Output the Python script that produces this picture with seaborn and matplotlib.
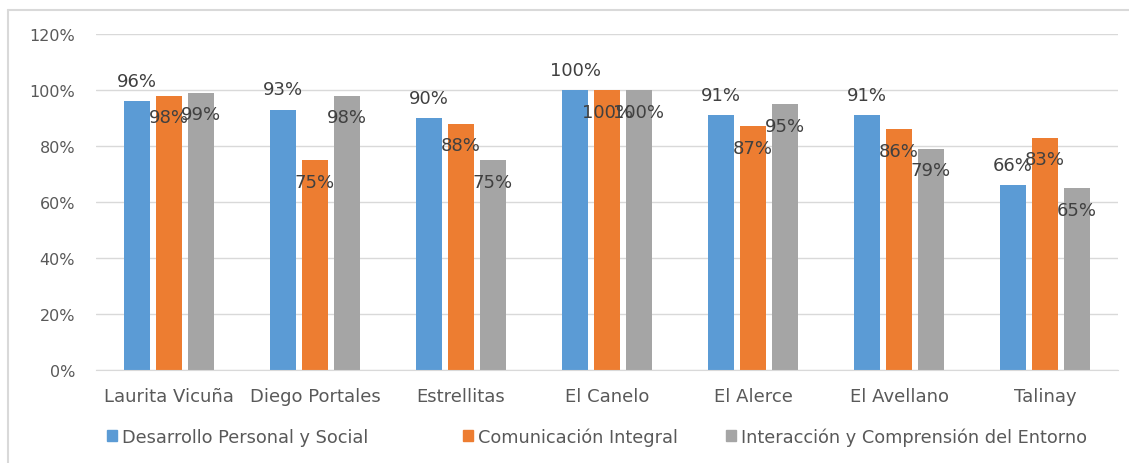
import matplotlib
matplotlib.use("Agg")
import matplotlib.pyplot as plt
import seaborn as sns
import pandas as pd
from matplotlib.patches import Rectangle
from matplotlib.lines import Line2D
from matplotlib.ticker import FuncFormatter

categories = ["Laurita Vicuña", "Diego Portales", "Estrellitas", "El Canelo",
              "El Alerce", "El Avellano", "Talinay"]
series_names = ["Desarrollo Personal y Social", "Comunicación Integral",
                "Interacción y Comprensión del Entorno"]
desarrollo = [96, 93, 90, 100, 91, 91, 66]
comunicacion = [98, 75, 88, 100, 87, 86, 83]
interaccion = [99, 98, 75, 100, 95, 79, 65]
yticks = [0, 20, 40, 60, 80, 100, 120]

colors = ["#5B9BD5", "#ED7D31", "#A5A5A5"]

rows = []
for name, vals in zip(series_names, [desarrollo, comunicacion, interaccion]):
    for c, v in zip(categories, vals):
        rows.append({"cat": c, "serie": name, "val": v})
df = pd.DataFrame(rows)

sns.set_style("white")
plt.rcParams["font.family"] = ["DejaVu Sans"]

fig = plt.figure(figsize=(11.29, 4.64), dpi=100)
ax = fig.add_axes([96/1129, 1-371/464, (1118-96)/1129, (371-35)/464])

sns.barplot(data=df, x="cat", y="val", hue="serie", palette=colors,
            saturation=1, width=0.657, gap=0.19, linewidth=0, ax=ax,
            legend=False, order=categories, hue_order=series_names)

ax.set_ylim(0, 120)
ax.set_xlim(-0.5, len(categories) - 0.5)
ax.set_yticks(yticks)
ax.yaxis.set_major_formatter(FuncFormatter(lambda v, p: f"{int(v)}%"))
ax.grid(axis="y", color="#D9D9D9", linewidth=1)
ax.set_axisbelow(True)
for s in ["left", "right", "top"]:
    ax.spines[s].set_visible(False)
ax.spines["bottom"].set_color("#D9D9D9")
ax.tick_params(axis="y", length=0, pad=15, labelsize=11.5, labelcolor="#595959")
ax.tick_params(axis="x", length=0, pad=12, labelsize=13, labelcolor="#595959")
ax.set_xlabel("")
ax.set_ylabel("")

# data labels: first series outside end, others inside end
for i, cont in enumerate(ax.containers):
    vals = [desarrollo, comunicacion, interaccion][i]
    off = 14.5 if i == 0 else -15.5
    for bar, v in zip(cont, vals):
        ax.annotate(f"{v}%", (bar.get_x() + bar.get_width()/2, bar.get_height()),
                    xytext=(0, off), textcoords="offset points",
                    ha="center", va="center", fontsize=13, color="#404040")

# legend: one entry per legend, positioned like the reference
legend_x = [107, 463, 726]
for name, c, lx in zip(series_names, colors, legend_x):
    leg = fig.legend([Rectangle((0, 0), 1, 1, color=c)], [name], loc="center left",
                     bbox_to_anchor=(lx/1129, 1-438/464), frameon=False,
                     fontsize=12.8, handlelength=0.57, handleheight=0.57,
                     handletextpad=0.3, borderpad=0, borderaxespad=0)
    for t in leg.get_texts():
        t.set_color("#595959")

# chart area border (top and left visible; right/bottom fall outside the image)
fig.add_artist(Line2D([8/1129, 8/1129], [0, 1-11/464], transform=fig.transFigure,
                      color="#D9D9D9", linewidth=1.5))
fig.add_artist(Line2D([8/1129, 1], [1-11/464, 1-11/464], transform=fig.transFigure,
                      color="#D9D9D9", linewidth=1.5))

fig.savefig("out.png", dpi=100)
